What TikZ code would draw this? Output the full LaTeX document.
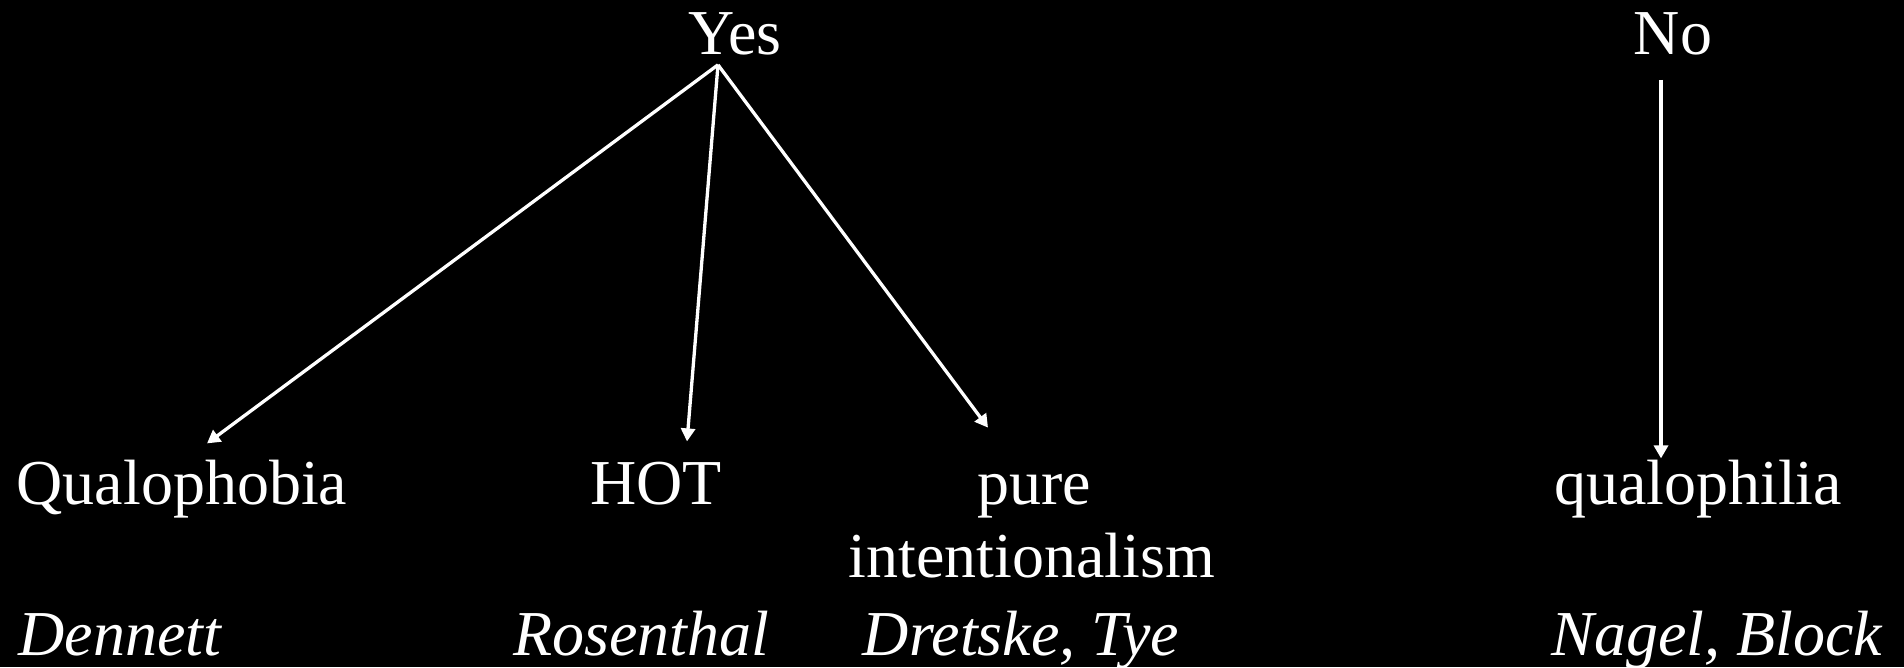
\documentclass[tikz,border=0pt]{standalone}
\usepackage{fontspec}
\setmainfont{Liberation Serif}
\usetikzlibrary{arrows.meta, positioning}

\begin{document}
\begin{tikzpicture}[
  x=1pt, y=-1pt,
  word/.style={text=white, inner sep=0pt, anchor=base, font=\fontsize{64}{76}\selectfont},
  who/.style={word, font=\fontsize{64}{76}\selectfont\itshape},
  arr/.style={-{Triangle[length=13pt, width=14pt]}, line width=3.3pt, white}
]
  \fill[black] (0,0) rectangle (1904,667);
  \useasboundingbox (0,0) rectangle (1904,667);

  \node[word] (yes) at (735,54) {Yes};
  \node[word] (no) at (1673,54) {No};

  \node[word] (qphob) at (182,504) {Qualophobia};
  \node[word] (hot) at (656,504) {HOT};
  \node[word] (pure) at (1034,504) {pure};
  \node[word] (intent) at (1032,577) {intentionalism};
  \node[word] (qphil) at (1698,504) {qualophilia};

  \node[who] (dennett) at (120,655) {Dennett};
  \node[who] (rosen) at (641,655) {Rosenthal};
  \node[who] (dretske) at (1021,655) {Dretske, Tye};
  \node[who] (nagel) at (1717,655) {Nagel, Block};

  \draw[arr] ([xshift=-17pt, yshift=-10pt]yes.south) -- ([xshift=25pt, yshift=16pt]qphob.north);
  \draw[arr] ([xshift=-17pt, yshift=-10pt]yes.south) -- ([xshift=31pt, yshift=20pt]hot.north);
  \draw[arr] ([xshift=-17pt, yshift=-10pt]yes.south) -- ([xshift=-46pt, yshift=46pt]pure.north);
  \draw[arr] ([xshift=-12pt, yshift=-25pt]no.south) -- ([xshift=-37pt, yshift=1pt]qphil.north);
\end{tikzpicture}
\end{document}
